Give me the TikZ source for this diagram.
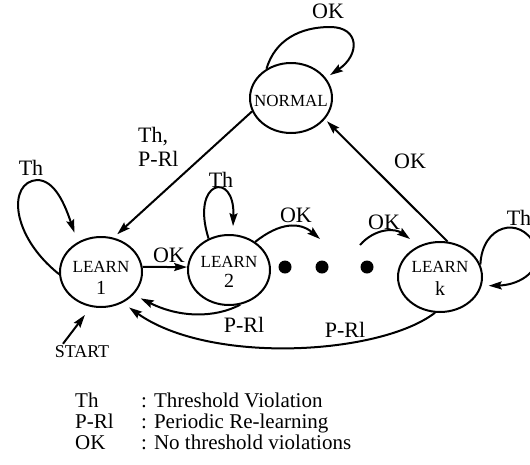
\documentclass[tikz,border=0pt]{standalone}
\usepackage{fontspec}
\setmainfont{Liberation Serif}
\usetikzlibrary{arrows.meta,shapes.geometric}
\begin{document}
\begin{tikzpicture}[x=1pt,y=-1pt,
  state/.style={draw, ellipse, line width=2pt, minimum width=82pt, minimum height=70pt, inner sep=0pt},
  small/.style={font=\fontsize{17}{17}\selectfont, inner sep=0pt},
  digit/.style={font=\fontsize{20}{20}\selectfont, inner sep=0pt},
  lab/.style={font=\fontsize{22}{24}\selectfont, inner sep=0pt},
  conn/.style={line width=2pt, -{Stealth[length=13pt,width=8pt,inset=2pt]}},
  dot/.style={circle, fill, inner sep=0pt, minimum size=13pt}
]
\useasboundingbox (0,0) rectangle (530,464);
% states
\node[state] (n) at (291,98) {};
\node[small] (nt) at (291,101) {NORMAL};
\node[state] (l1) at (101,272) {};
\node[small] (l1a) at (101,267) {LEARN};
\node[digit] (l1b) at (101,288) {1};
\node[state] (l2) at (229,270) {};
\node[small] (l2a) at (229,262) {LEARN};
\node[digit] (l2b) at (229,281) {2};
\node[state, minimum width=84pt] (lk) at (440,277) {};
\node[small] (lka) at (440,267) {LEARN};
\node[digit] (lkb) at (440,289) {k};
% dots
\node[dot] (d1) at (285,267) {};
\node[dot] (d2) at (322,267) {};
\node[dot] (d3) at (367,267) {};
% start
\node[font=\fontsize{18}{18}\selectfont, inner sep=2pt] (start) at (82,352) {START};
% connectors
\draw[conn, shorten >=5pt] (n.199) -- (l1.70);
\draw[conn, shorten >=3pt] (lk.78) -- (n.328);
\draw[conn] (l1.7) -- (l2.176);
\draw[conn, shorten >=10pt] (l1.183) .. controls (10,235) and (8,182) .. (37,180)
   .. controls (55,180) and (65,205) .. (l1.128);
\draw[conn, shorten >=8pt] (l2.123) .. controls (190,180) and (235,170) .. (l2.84);
\draw[conn, shorten >=7pt] (lk.17) .. controls (482,225) and (520,215) .. (535,245)
   .. controls (545,270) and (520,285) .. (lk.-12);
\draw[conn, shorten >=5pt] (n.130) .. controls (275,40) and (300,27) .. (330,27)
   .. controls (360,27) and (360,55) .. (n.30);
\coordinate (a1) at (320,239);
\draw[conn] (l2.47) .. controls (280,222) and (300,222) .. (a1);
\coordinate (b0) at (360,245);
\coordinate (b1) at (410,239);
\draw[conn] (b0) .. controls (375,228) and (395,228) .. (b1);
\draw[conn, shorten >=8pt] (l2.-72) .. controls (215,318) and (180,318) .. (l1.-35);
\draw[conn, shorten >=8pt] (lk.-98) .. controls (380,355) and (210,365) .. (l1.-55);
\draw[conn, shorten >=10pt] ([xshift=-19pt]start.north) -- (l1.-106);
% labels
\node[lab] (ok0) at (328,11) {OK};
\node[lab, align=left, anchor=west] (thp) at (138,147) {Th,\\P-Rl};
\node[lab] (okn) at (410,161) {OK};
\node[lab] (ok1) at (169,255) {OK};
\node[lab] (ok2) at (296,215) {OK};
\node[lab] (ok3) at (384,222) {OK};
\node[lab] (th1) at (31,168) {Th};
\node[lab] (th2) at (221,180) {Th};
\node[lab] (thk) at (519,218) {Th};
\node[lab] (pr1) at (244,325) {P-Rl};
\node[lab] (pr2) at (345,330) {P-Rl};
% legend
\node[anchor=north west, inner sep=0pt, font=\fontsize{21}{20.5}\selectfont] (legend) at (75,393)
  {\begin{tabular}{@{}p{66pt}@{}l@{}}Th & : Threshold Violation\\ P-Rl & : Periodic Re-learning\\ OK & : No threshold violations\end{tabular}};
\end{tikzpicture}
\end{document}
